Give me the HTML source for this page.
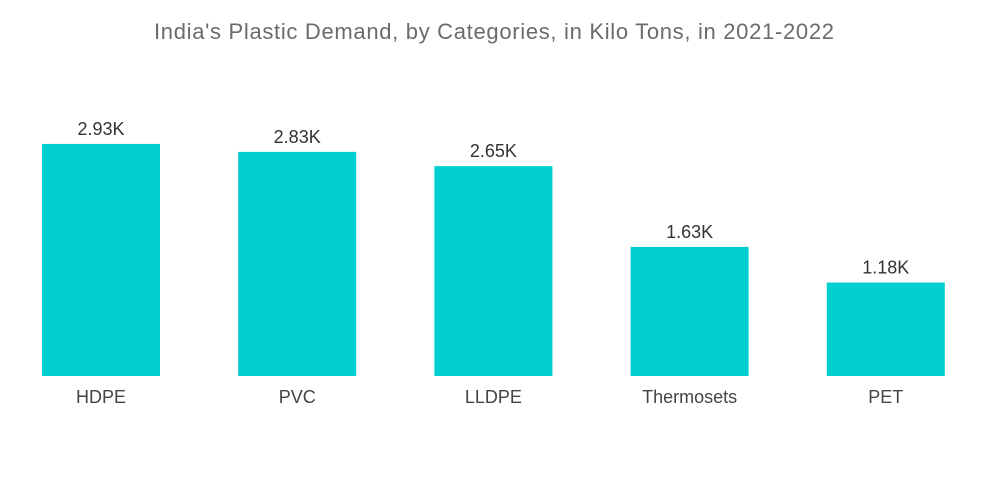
<!DOCTYPE html>
<html><head><meta charset="utf-8"><style>
body{margin:0;background:#fff;font-family:"Liberation Sans",sans-serif;}
svg{display:block}
</style></head><body>
<svg width="1000" height="504">
<text x="494" y="39" text-anchor="middle" font-size="22" textLength="680" lengthAdjust="spacing" fill="#6b6b6b">India's Plastic Demand, by Categories, in Kilo Tons, in 2021-2022</text>
<g id="bars"></g>
</svg>
<script>
const categories=["HDPE","PVC","LLDPE","Thermosets","PET"];
const values=[2.93,2.83,2.65,1.63,1.18];
const valueLabels=["2.93K","2.83K","2.65K","1.63K","1.18K"];
const base=376, pxPerK=79.2, x0=42, step=196.2, bw=118;
const y=v=>base-v*pxPerK;
const g=document.getElementById('bars');
const NS="http://www.w3.org/2000/svg";
categories.forEach((c,i)=>{
  const x=x0+i*step;
  const r=document.createElementNS(NS,'rect');
  r.setAttribute('x',x);r.setAttribute('y',y(values[i]));
  r.setAttribute('width',bw);r.setAttribute('height',base-y(values[i]));
  r.setAttribute('fill','#00ced1');
  
  
  g.appendChild(r);
  const t=document.createElementNS(NS,'text');
  t.setAttribute('x',x+bw/2);t.setAttribute('y',y(values[i])-9);
  t.setAttribute('text-anchor','middle');t.setAttribute('font-size','18');t.setAttribute('fill','#333');
  t.textContent=valueLabels[i];
  
  
  g.appendChild(t);
  const l=document.createElementNS(NS,'text');
  l.setAttribute('x',x+bw/2);l.setAttribute('y',403);
  l.setAttribute('text-anchor','middle');l.setAttribute('font-size','18');l.setAttribute('fill','#444');
  l.textContent=c;
  
  
  g.appendChild(l);
});
</script>
</body></html>
